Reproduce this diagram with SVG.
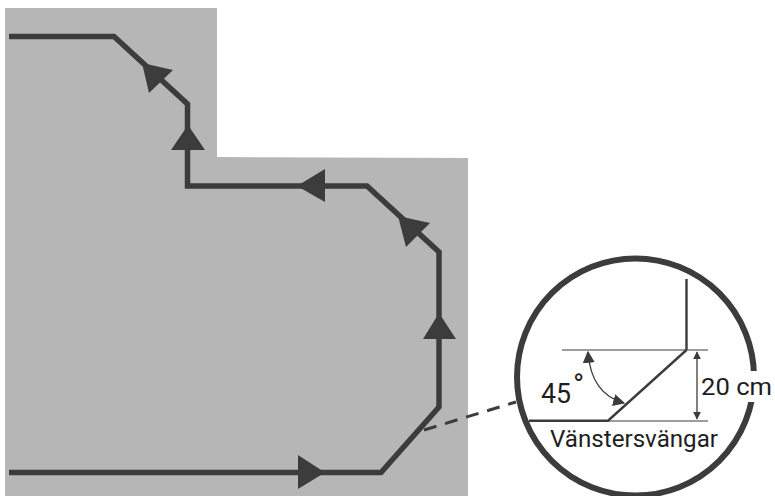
<svg xmlns="http://www.w3.org/2000/svg" width="775" height="496" viewBox="0 0 775 496">
<style>
.ah{fill:#3c3c3c;stroke:none}
.l{fill:none;stroke:#3c3c3c}
text{font-family:"Roboto","Liberation Sans",sans-serif;fill:#1e1e1e}
</style>
<defs>
<marker id="small" viewBox="0 0 10 10" refX="9" refY="5" markerWidth="8" markerHeight="8" markerUnits="userSpaceOnUse" orient="auto-start-reverse"><path d="M0 0L10 5L0 10Z" fill="#3c3c3c"/></marker>
<marker id="big" viewBox="0 0 10 10" refX="9" refY="5" markerWidth="12" markerHeight="12" markerUnits="userSpaceOnUse" orient="auto-start-reverse"><path d="M0 0L10 5L0 10Z" fill="#3c3c3c"/></marker>
</defs>
<polygon id="area" points="5,8 217,8 217,157 468,158 468,496 5,496" fill="#b6b6b6"/>
<g id="connectors">
<polyline class="l" stroke-width="5.500" points="9,36.500 114,36.500 187.500,104 187.500,186 367,186 439,252 439,407 381,472.500 9,472.500"/>
<path class="l" stroke-width="3" stroke-dasharray="13,9" d="M424,430L516,402"/>
</g>
<g id="arrows">
<polygon class="ah" points="142,63 173,70 149,93"/>
<polygon class="ah" points="188,125 171,150 205,150"/>
<polygon class="ah" points="297,186 325,169 325,202"/>
<polygon class="ah" points="398,216 430,223 406,247"/>
<polygon class="ah" points="439,313 423,339 456,339"/>
<polygon class="ah" points="325,472.500 298,455 298,489"/>
</g>
<g id="detail">
<circle cx="635.500" cy="377" r="118.500" fill="#fff" stroke="#3c3c3c" stroke-width="6"/>
<rect x="700" y="371" width="75" height="31" fill="#fff"/>
<path class="l" stroke-width="2.400" d="M686.500,279V350M529,420.700H608L686.500,350"/>
<path class="l" stroke-width="1.200" d="M562,350H708M608,421H708"/>
<path class="l" stroke-width="1.300" marker-start="url(#small)" marker-end="url(#small)" d="M697,352V419"/>
<path class="l" stroke-width="1.300" marker-start="url(#big)" marker-end="url(#big)" d="M588,352C590,380 602,397 624,403"/>
<text x="541" y="403" font-size="28" textLength="30" lengthAdjust="spacingAndGlyphs">45</text>
<text x="573" y="395" font-size="30">°</text>
<text x="701" y="395" font-size="24" textLength="71" lengthAdjust="spacingAndGlyphs">20 cm</text>
<text x="550" y="447" font-size="24" textLength="168" lengthAdjust="spacingAndGlyphs">Vänstersvängar</text>
</g>
</svg>
